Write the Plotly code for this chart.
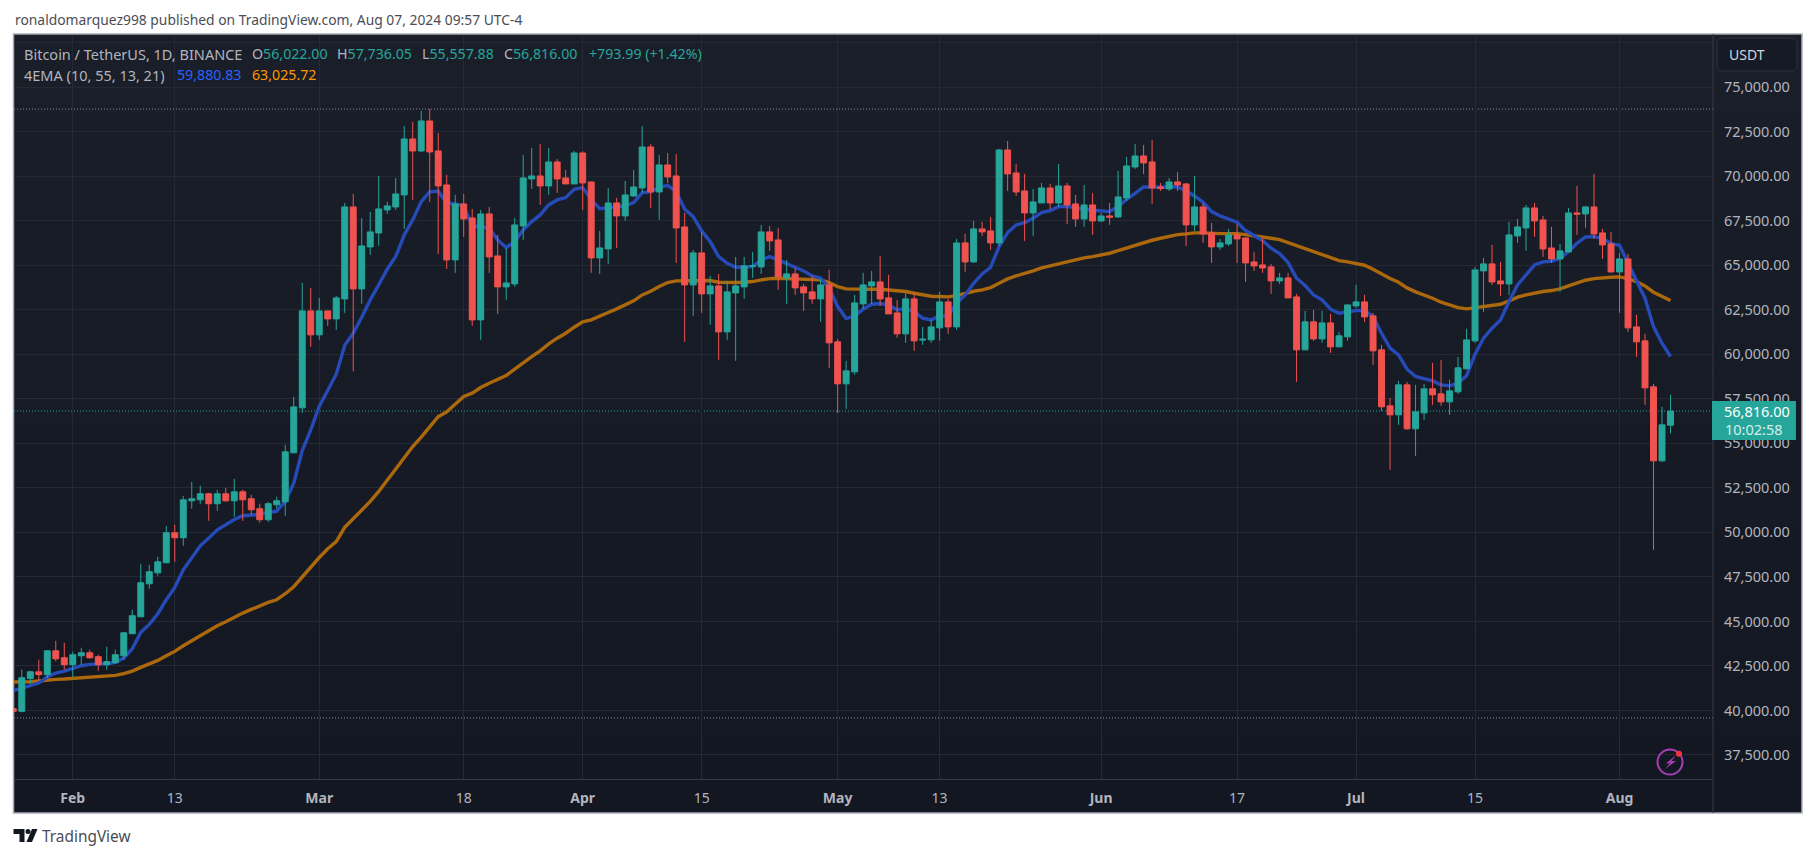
import pandas as pd
import plotly.graph_objects as go

W, H = 1815, 858
ML, MR, MT, MB = 13.5, 102, 35, 79

dates = pd.date_range("2024-01-25", "2024-08-07", freq="D")

# daily candles, one line per month (Jan 25 .. Aug 7)
open_prices = [
    40100, 39950, 41800, 42170, 42010, 43350, 42960,
    42570, 43070, 43240, 43020, 42570, 42680, 43070, 44310, 45260, 47115, 47730, 48290, 49980, 49700, 51775, 51830, 52170, 51610, 52170, 51775, 52280, 51890, 51330, 50710, 51550, 51720, 54470, 56995, 62440,
    61094, 62440, 61990, 63115, 68280, 63677, 66034, 66820, 68112, 68280, 68954, 72098, 71424, 73108, 71424, 69515, 65305, 68448, 67663, 61936, 67887, 65529, 63789, 63957, 67213, 69852, 70020, 69459, 70806, 69908, 69571,
    71311, 69683, 65417, 65922, 68504, 67774, 68897, 69346, 71648, 69122, 70638, 70020, 67157, 63901, 65698, 63396, 63845, 61262, 63452, 63789, 64950, 64911, 66876, 66427, 64293, 64518, 63789, 63508, 63115, 63901,
    60701, 58343, 59017, 62834, 63845, 64069, 63171, 62329, 61150, 63115, 60800, 60814, 61487, 62946, 61543, 66259, 65192, 67045, 66932, 66259, 71480, 70189, 69178, 67943, 68504, 69346, 68504, 69459, 68448, 67606, 68392,
    67494, 67774, 67718, 68785, 70525, 71143, 70806, 69400, 69290, 69683, 69571, 67269, 68280, 66820, 66034, 66203, 66708, 66539, 65192, 65023, 64911, 64125, 64294, 63227, 60252, 61824, 60869, 61767, 60420, 60982,
    62722, 62946, 62160, 60252, 57108, 56603, 58287, 55817, 56715, 58062, 57781, 57332, 57894, 59185, 60757, 64687, 65080, 64125, 63957, 66652, 67101, 68224, 67550, 65978, 65360, 65754, 67943, 67887, 68280, 66820, 66203,
    64630, 65360, 61543, 60757, 58175, 54020, 56022,
]
high_prices = [
    40300, 42290, 42230, 42850, 43380, 43915, 43800,
    43300, 43520, 43410, 43130, 43580, 43410, 44420, 45656, 48240, 48180, 48630, 50370, 50430, 52055, 52840, 52620, 52225, 52390, 52505, 53010, 52390, 52110, 51610, 51720, 52000, 54920, 57613, 64013, 63732,
    63171, 62460, 63283, 68505, 69010, 67663, 67999, 70020, 68561, 69908, 72827, 73052, 73669, 73780, 72434, 70077, 68954, 69010, 68168, 68112, 68280, 66708, 65960, 67662, 71199, 71592, 71816, 71592, 70974, 70357, 71423,
    71400, 69700, 66932, 69346, 68785, 69739, 70357, 72827, 71816, 71199, 71311, 71255, 67943, 65866, 66876, 64406, 64518, 64125, 65473, 65473, 65754, 67269, 67213, 67101, 65305, 64855, 63957, 64406, 64237, 64743,
    60869, 59634, 63340, 64574, 64687, 65529, 64462, 63059, 63433, 63508, 61543, 61936, 63508, 63115, 66483, 66764, 67494, 67438, 67718, 71536, 71985, 70693, 70132, 69290, 69627, 69571, 70694, 69627, 68953, 69515, 69066,
    67943, 68504, 70300, 71087, 71816, 71760, 72041, 69627, 69908, 70245, 69627, 70020, 68504, 67381, 66483, 67045, 67325, 66539, 65754, 66483, 65080, 64574, 64574, 63396, 62441, 62497, 62441, 62273, 61262, 62800,
    63901, 63340, 62329, 60533, 57557, 58512, 58455, 58287, 58343, 59522, 59690, 58568, 59859, 61431, 64911, 65417, 66146, 65192, 67438, 67606, 68392, 68504, 67775, 67157, 66203, 68224, 69459, 68336, 70132, 67045, 66876,
    65697, 65641, 62217, 61150, 58343, 57052, 57736,
]
low_prices = [
    39500, 39890, 41480, 41690, 41820, 42755, 42290,
    41875, 42570, 42905, 42230, 42290, 42620, 42850, 44310, 45260, 46830, 47560, 48290, 48350, 49250, 51325, 51610, 50650, 51210, 51720, 50880, 50650, 50990, 50540, 50600, 51330, 50930, 54470, 56715, 60420,
    60813, 61600, 61375, 62329, 59035, 62835, 65585, 66091, 67887, 68112, 67045, 68673, 71368, 68561, 65642, 64799, 64575, 66596, 61600, 60814, 64575, 62273, 63059, 63789, 66427, 69290, 68392, 68953, 69066, 69571, 69571,
    68111, 64575, 64518, 65080, 65978, 67494, 68841, 69066, 68224, 67550, 69627, 65136, 60701, 62161, 62329, 61655, 59690, 60813, 59634, 63115, 64293, 64518, 65810, 63620, 62834, 63340, 62441, 62834, 61824, 59241,
    56700, 56940, 58848, 62553, 62834, 62722, 62273, 60926, 60645, 60196, 60533, 60645, 60757, 61150, 61375, 64631, 65136, 66652, 65866, 66090, 69178, 68897, 66371, 66651, 68504, 68167, 68280, 67325, 67157, 67157, 66708,
    67438, 67269, 67662, 68617, 70413, 70132, 68448, 69178, 69178, 69178, 66090, 66932, 66259, 65136, 65866, 66090, 65136, 64069, 64687, 64575, 63396, 63957, 63171, 58455, 60252, 60757, 60645, 60083, 60420, 60757,
    62600, 61824, 59410, 56827, 53515, 56041, 55761, 54301, 56322, 57164, 57108, 56603, 57781, 59185, 60645, 62385, 63901, 63283, 63340, 66259, 65810, 66596, 65473, 65136, 63508, 65754, 66708, 67101, 66483, 65360, 64574,
    62329, 61262, 59859, 57164, 49024, 53964, 55558,
]
close_prices = [
    39950, 41840, 42170, 42010, 43350, 42900, 42570,
    43130, 43240, 42960, 42570, 42740, 43130, 44360, 45320, 47170, 47790, 48350, 49980, 49700, 51830, 51890, 52170, 51610, 52170, 51775, 52280, 51830, 51270, 50710, 51610, 51775, 54525, 57050, 62440, 61094,
    62440, 61990, 63171, 68280, 63677, 66091, 66876, 68168, 68336, 69010, 72098, 71424, 73108, 71368, 69459, 65305, 68448, 67606, 61936, 67887, 65473, 63789, 64013, 67269, 69908, 70020, 69459, 70806, 69852, 69571, 71311,
    69627, 65417, 65978, 68504, 67774, 68953, 69402, 71648, 69122, 70638, 69964, 67101, 63901, 65698, 63396, 63845, 61262, 63508, 63845, 64968, 64980, 66876, 66371, 64350, 64518, 63732, 63452, 63115, 63901, 60645,
    58343, 59073, 62890, 63901, 64069, 63115, 62273, 61150, 63115, 60757, 60850, 61543, 62946, 61543, 66259, 65192, 67045, 66876, 66259, 71480, 70132, 69122, 67943, 68560, 69346, 68504, 69459, 68392, 67606, 68392, 67494,
    67774, 67700, 68841, 70581, 71143, 70750, 69346, 69310, 69683, 69515, 67269, 68280, 66764, 66034, 66259, 66708, 66483, 65136, 64967, 64855, 64125, 64294, 63171, 60252, 61824, 60869, 61767, 60420, 61038, 62778,
    62946, 62104, 60196, 57052, 56603, 58287, 55817, 56771, 58062, 57725, 57332, 57950, 59241, 60813, 64743, 65080, 64069, 63957, 66708, 67157, 68224, 67494, 65922, 65360, 65810, 67943, 67870, 68280, 66764, 66146, 64630,
    65360, 61487, 60701, 58119, 54020, 56041, 56816,
]

# the two EMA lines as drawn
ema_fast = [
    41108, 41258, 41426, 41539, 41875, 42100, 42212,
    42343, 42512, 42587, 42587, 42624, 42699, 42942, 43466, 44383, 44832, 45431, 46217, 46909, 47901, 48612, 49248, 49679, 50147, 50427, 50727, 50933, 50989, 51007, 51120, 51195, 51737, 52766, 54600, 55760,
    57070, 58006, 58886, 60505, 61188, 62080, 63059, 63901, 64781, 65492, 66708, 67550, 68580, 69122, 69178, 68486, 68449, 68336, 67213, 67176, 67082, 66427, 65997, 66334, 66988, 67456, 67830, 68392, 68673, 68804, 69272,
    69365, 68710, 68186, 68224, 68261, 68336, 68523, 69084, 69122, 69384, 69496, 69141, 68149, 67737, 66932, 66334, 65491, 65117, 64893, 64893, 64930, 65305, 65491, 65305, 65117, 64893, 64687, 64406, 64275, 63714,
    62685, 62011, 62161, 62535, 62816, 62853, 62778, 62498, 62591, 62404, 62030, 61936, 62161, 62161, 62872, 63340, 63994, 64518, 64893, 66053, 66839, 67269, 67400, 67644, 67962, 68074, 68299, 68317, 68224, 68149, 68093,
    68055, 68018, 68299, 68710, 69047, 69402, 69402, 69384, 69421, 69402, 69178, 68897, 68542, 68018, 67775, 67606, 67419, 66951, 66670, 66390, 65959, 65660, 65155, 64275, 63863, 63339, 63059, 62535, 62310, 62385,
    62460, 62460, 62123, 61187, 60345, 59971, 59166, 58755, 58642, 58512, 58287, 58231, 58380, 58792, 60008, 60907, 61468, 61936, 62965, 63901, 64462, 65024, 65192, 65230, 65398, 65772, 66240, 66595, 66614, 66521, 66221,
    66128, 65117, 64182, 63152, 61562, 60626, 59881,
]
ema_slow = [
    41595, 41595, 41614, 41651, 41707, 41745, 41763,
    41801, 41857, 41894, 41913, 41932, 41969, 42063, 42212, 42418, 42624, 42811, 43073, 43317, 43635, 43915, 44215, 44458, 44757, 44982, 45244, 45468, 45674, 45880, 46067, 46217, 46554, 46950, 47510, 48030,
    48590, 49080, 49480, 50280, 50745, 51232, 51737, 52299, 52916, 53515, 54170, 54825, 55349, 55948, 56500, 56770, 57205, 57632, 57819, 58137, 58380, 58605, 58811, 59167, 59541, 59878, 60196, 60589, 60907, 61188, 61525,
    61824, 61936, 62123, 62348, 62554, 62778, 63003, 63340, 63545, 63807, 64032, 64125, 64125, 64125, 64125, 64144, 64051, 64032, 64032, 64051, 64088, 64181, 64256, 64275, 64256, 64256, 64238, 64219, 64181, 64032,
    63807, 63676, 63657, 63657, 63657, 63657, 63620, 63545, 63527, 63433, 63340, 63265, 63246, 63227, 63302, 63433, 63545, 63620, 63751, 63994, 64238, 64406, 64537, 64687, 64855, 64968, 65117, 65230, 65323, 65417, 65491,
    65585, 65679, 65828, 65978, 66146, 66296, 66408, 66520, 66614, 66727, 66764, 66820, 66820, 66783, 66783, 66783, 66783, 66727, 66670, 66595, 66521, 66446, 66277, 66071, 65940, 65772, 65604, 65398, 65267, 65192,
    65117, 65005, 64780, 64500, 64256, 64051, 63732, 63508, 63339, 63152, 62928, 62778, 62628, 62554, 62628, 62703, 62778, 62815, 63000, 63209, 63339, 63452, 63527, 63583, 63676, 63845, 63994, 64163, 64256, 64312, 64331,
    64350, 64256, 64088, 63845, 63489, 63246, 63026,
]

x_tick_dates = ["2024-02-01", "2024-02-13", "2024-03-01", "2024-03-18", "2024-04-01", "2024-04-15", "2024-05-01",
                "2024-05-13", "2024-06-01", "2024-06-17", "2024-07-01", "2024-07-15", "2024-08-01"]
x_tick_labels = ["<b>Feb</b>", "13", "<b>Mar</b>", "18", "<b>Apr</b>", "15", "<b>May</b>",
                 "13", "<b>Jun</b>", "17", "<b>Jul</b>", "15", "<b>Aug</b>"]
y_ticks = [37500, 40000, 42500, 45000, 47500, 50000, 52500, 55000, 57500, 60000, 62500, 65000, 67500, 70000, 72500, 75000, 77500]
y_tick_labels = [f"{v:,.2f}" for v in y_ticks[:-1]] + [""]

visible_high = 73777
visible_low = 39580
last_price = 56816

UP = "#26a69a"
DOWN = "#f0534f"
GRID = "#252934"
BORDER = "#363a45"
TEXT = "#b2b5be"
FONT = "Noto Sans"
Y_RANGE = [36150, 77936]


def px(x):
    return (x - ML) / (W - ML - MR)


def py(y):
    return 1 - (y - MT) / (H - MT - MB)


def label(text, x, y, size, color, anchor="left"):
    return dict(text=text, x=px(x), y=py(y), xref="paper", yref="paper", showarrow=False,
                xanchor=anchor, yanchor="middle", font=dict(family=FONT, size=size, color=color), borderpad=0)


def rect(x0, y0, x1, y1, **kw):
    return dict(type="rect", xref="paper", yref="paper", x0=px(x0), y0=py(y0), x1=px(x1), y1=py(y1), **kw)


def path(points, close=True, **kw):
    d = "M" + " L".join(f"{px(a):.5f},{py(b):.5f}" for a, b in points) + (" Z" if close else "")
    return dict(type="path", xref="paper", yref="paper", path=d, **kw)


fig = go.Figure()

# lines go on the base axes so the candles end up on top of them
fig.add_trace(go.Scatter(x=dates, y=ema_slow, mode="lines", line=dict(color="#ab680c", width=3.4), yaxis="y", showlegend=False))
fig.add_trace(go.Scatter(x=dates, y=ema_fast, mode="lines", line=dict(color="#264bb8", width=3.4), yaxis="y", showlegend=False))
fig.add_trace(go.Candlestick(
    x=dates, open=open_prices, high=high_prices, low=low_prices, close=close_prices,
    yaxis="y2", whiskerwidth=0, showlegend=False,
    increasing=dict(line=dict(color=UP, width=1), fillcolor=UP),
    decreasing=dict(line=dict(color=DOWN, width=1), fillcolor=DOWN),
))

shapes = []

# chart frame with the soft top to bottom background gradient,
# every band runs to the frame bottom so no seams show between them
steps = 30
top, bottom = (26, 30, 41), (19, 23, 34)
for i in range(steps):
    y0 = 34 + (813 - 34) * i / steps
    c = [round(top[k] + (bottom[k] - top[k]) * i / (steps - 1)) for k in range(3)]
    shapes.append(rect(13, y0, 1802, 813, layer="below", fillcolor=f"rgb({c[0]},{c[1]},{c[2]})", line=dict(width=0)))
shapes.append(rect(13, 34, 1802, 813, layer="below", line=dict(color="#a9acb5", width=1.5)))

# high / low / last price lines
for price, color in [(visible_high, "#8a8d96"), (visible_low, "#8a8d96"), (last_price, UP)]:
    shapes.append(dict(type="line", xref="paper", yref="y", x0=0, x1=1, y0=price, y1=price, layer="below",
                       line=dict(color=color, width=1, dash="1px,2px")))

# right scale divider running down to the frame
shapes.append(dict(type="line", xref="paper", yref="paper", x0=px(1713), x1=px(1713), y0=py(34), y1=py(813),
                   line=dict(color=BORDER, width=1)))

# last price tag
shapes.append(rect(1712, 401, 1796, 440, fillcolor=UP, line=dict(width=0)))

# USDT button
bx0, bx1, by0, by1, r = 1717, 1797, 38, 71, 6
shapes.append(dict(
    type="path", xref="paper", yref="paper", fillcolor="#161a25", line=dict(color="#2e323d", width=1),
    path=(f"M{px(bx0 + r)},{py(by0)} L{px(bx1 - r)},{py(by0)} Q{px(bx1)},{py(by0)} {px(bx1)},{py(by0 + r)} "
          f"L{px(bx1)},{py(by1 - r)} Q{px(bx1)},{py(by1)} {px(bx1 - r)},{py(by1)} "
          f"L{px(bx0 + r)},{py(by1)} Q{px(bx0)},{py(by1)} {px(bx0)},{py(by1 - r)} "
          f"L{px(bx0)},{py(by0 + r)} Q{px(bx0)},{py(by0)} {px(bx0 + r)},{py(by0)} Z"),
))

# lightning badge
shapes.append(dict(type="circle", xref="paper", yref="paper", x0=px(1657.5), x1=px(1682.5), y0=py(749.5), y1=py(774.5),
                   line=dict(color="#a63fb5", width=2)))
shapes.append(path([(1676, 755), (1666, 763.5), (1670, 763.5), (1664.5, 769.5), (1676, 761), (1671.5, 761)],
                   fillcolor="#a63fb5", line=dict(width=0)))
shapes.append(dict(type="circle", xref="paper", yref="paper", x0=px(1676), x1=px(1682), y0=py(750.7), y1=py(756.7),
                   fillcolor="#f7323f", line=dict(width=0)))

# TradingView logo
shapes.append(path([(13, 829), (24, 829), (24, 842), (19, 842), (19, 834), (13, 834)], fillcolor="#131722", line=dict(width=0)))
shapes.append(dict(type="circle", xref="paper", yref="paper", x0=px(25), x1=px(30), y0=py(829), y1=py(834), fillcolor="#131722", line=dict(width=0)))
shapes.append(path([(31.5, 829), (37, 829), (31.5, 842), (26, 842)], fillcolor="#131722", line=dict(width=0)))

annotations = [
    label("ronaldomarquez998 published on TradingView.com, Aug 07, 2024 09:57 UTC-4", 13, 20, 13.85, "#4a4d55"),
    label("TradingView", 41, 836, 15.4, "#4a4d55"),
    label("Bitcoin / TetherUS, 1D, BINANCE", 23, 54, 14.5, TEXT),
    label(f"O<span style='color:{UP}'>56,022.00</span>", 251, 54, 14.2, TEXT),
    label(f"H<span style='color:{UP}'>57,736.05</span>", 336, 54, 14.2, TEXT),
    label(f"L<span style='color:{UP}'>55,557.88</span>", 420.5, 54, 14.2, TEXT),
    label(f"C<span style='color:{UP}'>56,816.00</span>", 503, 54, 14.2, TEXT),
    label("+793.99 (+1.42%)", 587.6, 54, 14.2, UP),
    label("4EMA (10, 55, 13, 21)", 23, 75, 14.5, TEXT),
    label("59,880.83", 176, 75, 14.2, "#2962ff"),
    label("63,025.72", 251, 75, 14.2, "#ff9800"),
    label("USDT", 1728, 55, 14, "#d1d4dc"),
    label("56,816.00", 1723, 411, 14.5, "#ffffff"),
    label("10:02:58", 1724, 429, 14.5, "#d6eeeb"),
]

fig.update_layout(
    width=W, height=H,
    margin=dict(l=ML, r=MR, t=MT, b=MB, pad=0),
    paper_bgcolor="#ffffff",
    plot_bgcolor="rgba(0,0,0,0)",
    boxgap=0.3,
    boxgroupgap=0,
    shapes=shapes,
    annotations=annotations,
    showlegend=False,
    xaxis=dict(
        type="date", range=["2024-01-25 02:00", "2024-08-12"], rangeslider=dict(visible=False),
        tickmode="array", tickvals=x_tick_dates, ticktext=x_tick_labels, tickangle=0,
        showgrid=True, gridcolor=GRID, gridwidth=1, zeroline=False,
        showline=True, linecolor=BORDER, linewidth=1,
        tickfont=dict(family=FONT, size=14, color=TEXT), ticks="", ticklabelstandoff=6,
    ),
    yaxis=dict(
        side="right", range=Y_RANGE, tickmode="array", tickvals=y_ticks, ticktext=y_tick_labels,
        showgrid=True, gridcolor=GRID, gridwidth=1, zeroline=False, showline=False,
        tickfont=dict(family=FONT, size=14.5, color=TEXT), ticks="", ticklabelstandoff=10,
    ),
    yaxis2=dict(overlaying="y", side="right", range=Y_RANGE, visible=False, showgrid=False),
)

fig.write_html("out.html", config=dict(displayModeBar=False), post_script="document.body.style.margin='0';")
